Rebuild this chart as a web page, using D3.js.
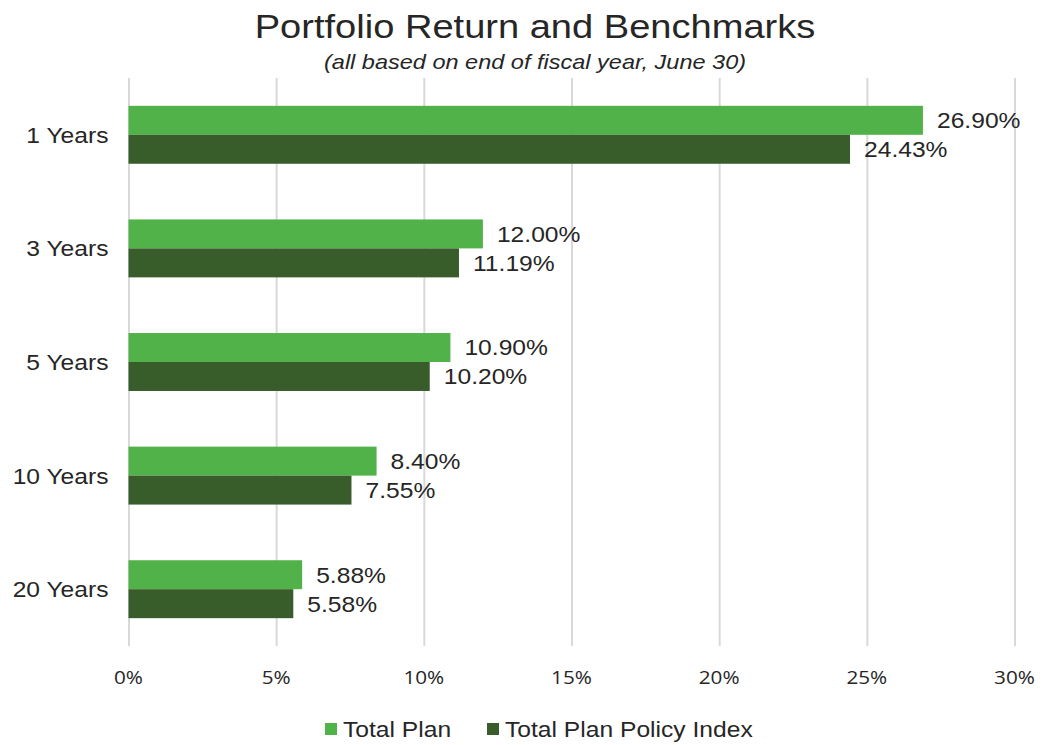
<html>
<head>
<script src="https://d3js.org/d3.v7.min.js"></script>
<style>
  body { margin: 0; background: #fff; }
  .grid line { stroke: #d9d9d9; stroke-width: 2; }
  .grid .domain { stroke: none; }
</style>
</head>
<body>
<svg id="chart" width="1049" height="745"></svg>
<script>
const categories = ["1 Years", "3 Years", "5 Years", "10 Years", "20 Years"];
const seriesNames = ["Total Plan", "Total Plan Policy Index"];
const totalPlan = [26.90, 12.00, 10.90, 8.40, 5.88];
const policyIndex = [24.43, 11.19, 10.20, 7.55, 5.58];
const xTicks = [0, 5, 10, 15, 20, 25, 30];
const colors = ["#52b24a", "#385c2a"];

const svg = d3.select("#chart");
const margin = {top: 78, left: 128.5, right: 34.5, bottom: 99};
const plotW = 1049 - margin.left - margin.right;
const plotH = 745 - margin.top - margin.bottom;
const textColor = "#262626";
const stretch = 1.12; // the reference text is a bit wide
const arial = "'Liberation Sans', Arial, sans-serif";

// place text at (x,y), widened horizontally
function place(sel, fx, fy) {
  return sel.attr("transform", (d, i) => `translate(${fx(d, i)},${fy(d, i)}) scale(${stretch},1)`);
}

const x = d3.scaleLinear().domain([0, 30]).range([0, plotW]);
const y = d3.scaleBand().domain(categories).range([0, plotH]).paddingInner(0.49).paddingOuter(0.245);
const sub = d3.scaleBand().domain(seriesNames).range([0, y.bandwidth()]);

const g = svg.append("g").attr("transform", `translate(${margin.left},${margin.top})`);

// gridlines
g.append("g").attr("class", "grid")
  .call(d3.axisBottom(x).tickValues(xTicks).tickSize(plotH).tickFormat(""));

// x tick labels
place(g.append("g").selectAll("text").data(xTicks).join("text"), d => x(d), () => plotH + 38)
  .attr("text-anchor", "middle")
  .attr("font-family", "'Open Sans', sans-serif").attr("font-size", 18.5)
  .attr("fill", textColor)
  .text(d => d + "%");

// category labels
place(g.append("g").selectAll("text").data(categories).join("text"), () => -20, d => y(d) + y.bandwidth() / 2)
  .attr("dy", "0.36em")
  .attr("text-anchor", "end")
  .attr("font-family", arial).attr("font-size", 22)
  .attr("fill", textColor)
  .text(d => d);

const rows = categories.map((c, i) => ({cat: c, vals: [totalPlan[i], policyIndex[i]]}));

const groups = g.append("g").selectAll("g").data(rows).join("g")
  .attr("transform", d => `translate(0,${y(d.cat)})`);

groups.selectAll("rect").data(d => d.vals.map((v, j) => ({v, s: seriesNames[j], j}))).join("rect")
  .attr("x", 0).attr("y", d => sub(d.s))
  .attr("width", d => x(d.v)).attr("height", sub.bandwidth())
  .attr("fill", d => colors[d.j]);

place(groups.selectAll("text").data(d => d.vals.map((v, j) => ({v, s: seriesNames[j], j}))).join("text"),
      d => x(d.v) + 14, d => sub(d.s) + sub.bandwidth() / 2)
  .attr("dy", "0.36em")
  .attr("font-family", arial).attr("font-size", 22)
  .attr("fill", textColor)
  .text(d => d.v.toFixed(2) + "%");

// title
place(svg.append("text"), () => 535, () => 38).attr("text-anchor", "middle")
  .attr("font-family", arial).attr("font-size", 34)
  .attr("fill", textColor).text("Portfolio Return and Benchmarks");
place(svg.append("text"), () => 535, () => 69).attr("text-anchor", "middle")
  .attr("font-family", arial).attr("font-size", 21)
  .attr("font-style", "italic")
  .attr("fill", textColor).text("(all based on end of fiscal year, June 30)");

// legend
const legendX = [325, 487];
const legend = svg.append("g").selectAll("g").data(seriesNames).join("g")
  .attr("transform", (d, i) => `translate(${legendX[i]},729)`);
legend.append("rect").attr("x", 0).attr("y", -6).attr("width", 12).attr("height", 12)
  .attr("fill", (d, i) => colors[i]);
place(legend.append("text"), () => 18, () => 0).attr("dy", "0.36em")
  .attr("font-family", arial).attr("font-size", 22)
  .attr("fill", textColor).text(d => d);
</script>
</body>
</html>
